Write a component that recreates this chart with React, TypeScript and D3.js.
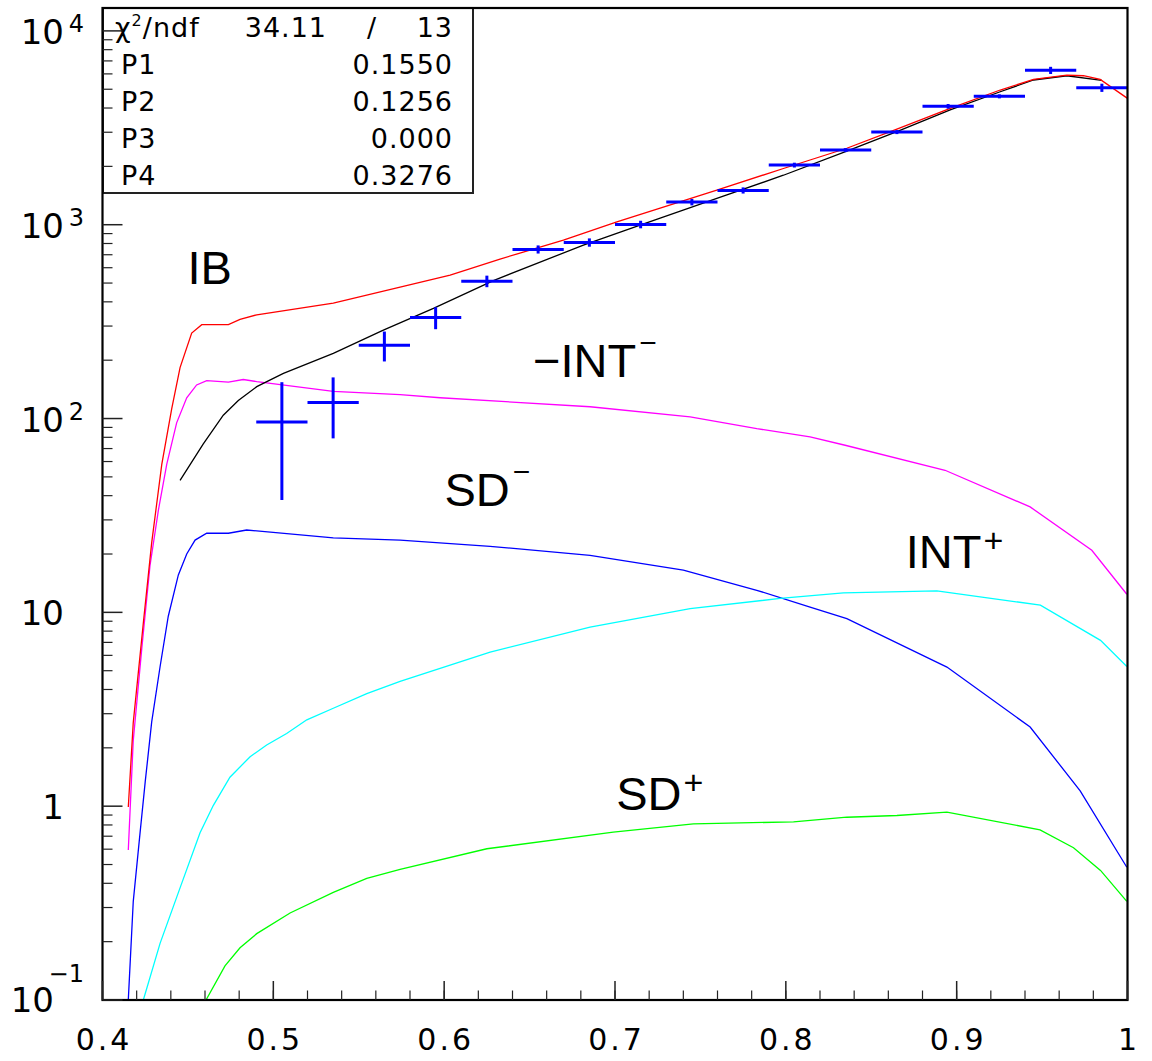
import React from "react";
import * as d3 from "d3";

// ---- fitted curves (x, value) ----
const redCurve: [number, number][] = [
  [0.4151, 0.99], [0.418, 2.7], [0.424, 9.0], [0.4288, 22.9], [0.4347, 58], [0.4405, 112],
  [0.4454, 183], [0.4522, 276], [0.4581, 305], [0.4737, 305], [0.4805, 325], [0.4903, 343],
  [0.5351, 394], [0.5742, 477], [0.6035, 549], [0.6327, 665], [0.6698, 833], [0.7011, 1035],
  [0.7596, 1509], [0.7986, 1950], [0.8357, 2480], [0.865, 3116], [0.8962, 3984], [0.9255, 4954],
  [0.945, 5623], [0.9645, 5916], [0.9742, 5870], [0.984, 5623], [1.0, 4487],
];
const blackCurve: [number, number][] = [
  [0.4454, 48], [0.459, 74], [0.4707, 104], [0.4795, 124], [0.4903, 146], [0.5059, 171],
  [0.5351, 217], [0.5644, 286], [0.5937, 370], [0.6288, 515], [0.6815, 785], [0.7147, 995],
  [0.7596, 1367], [0.7986, 1800], [0.8357, 2400], [0.865, 3020], [0.8962, 3908], [0.9255, 4853],
  [0.945, 5580], [0.9645, 5870], [0.985, 5560],
];
const magentaCurve: [number, number][] = [
  [0.4151, 0.594], [0.418, 2.18], [0.423, 6.52], [0.4278, 17.4], [0.4327, 33.6], [0.4376, 58],
  [0.4434, 95], [0.4493, 128], [0.4551, 149], [0.461, 157], [0.4737, 154], [0.4824, 159],
  [0.4903, 155], [0.5351, 138], [0.5742, 133], [0.5976, 128], [0.6854, 115], [0.744, 102],
  [0.783, 88.7], [0.8142, 80.5], [0.8347, 72.8], [0.8932, 54.1], [0.943, 35], [0.9791, 20.9],
  [0.9996, 12.4],
];
const blueCurve: [number, number][] = [
  [0.4151, 0.1], [0.418, 0.322], [0.422, 0.73], [0.425, 1.335], [0.4288, 2.72], [0.4337, 5.24],
  [0.4385, 9.55], [0.4444, 15.6], [0.4493, 20], [0.4542, 23.6], [0.461, 25.6], [0.4737, 25.6],
  [0.4844, 26.6], [0.5351, 24.2], [0.5742, 23.6], [0.6269, 21.9], [0.6854, 19.7], [0.74, 16.5],
  [0.783, 13], [0.8142, 10.65], [0.8357, 9.28], [0.8943, 5.22], [0.943, 2.56], [0.9723, 1.2],
  [0.9996, 0.484],
];
const cyanCurve: [number, number][] = [
  [0.4239, 0.1], [0.4337, 0.196], [0.4454, 0.379], [0.4571, 0.73], [0.4649, 1.01], [0.4746, 1.41],
  [0.4864, 1.8], [0.4961, 2.07], [0.5078, 2.37], [0.5196, 2.79], [0.5351, 3.2], [0.5547, 3.81],
  [0.5742, 4.4], [0.6269, 6.24], [0.6854, 8.4], [0.744, 10.45], [0.7967, 11.8], [0.8337, 12.6],
  [0.8884, 12.9], [0.949, 10.9], [0.9842, 7.17], [0.9996, 5.26],
];
const greenCurve: [number, number][] = [
  [0.4606, 0.1], [0.4717, 0.15], [0.4805, 0.186], [0.4903, 0.22], [0.5098, 0.281], [0.5351, 0.359],
  [0.5547, 0.424], [0.5742, 0.472], [0.625, 0.603], [0.699, 0.734], [0.7459, 0.811], [0.8045, 0.83],
  [0.8357, 0.877], [0.865, 0.895], [0.8943, 0.931], [0.9488, 0.755], [0.9684, 0.61], [0.9842, 0.466],
  [0.9996, 0.323],
];

// ---- data points ----
const dataX = [0.505, 0.535, 0.565, 0.595, 0.625, 0.655, 0.685, 0.715, 0.745, 0.775, 0.805, 0.835, 0.865, 0.895, 0.925, 0.955, 0.985];
const dataY = [96, 121, 239, 332, 511, 746, 810, 1003, 1308, 1503, 2031, 2427, 3006, 4081, 4596, 6260, 5092];
const dataErr = [58, 42, 42, 43, 35, 36, 40, 45, 50, 55, 58, 58, 72, 114, 110, 266, 248];
const binHalfWidth = 0.015;

// ---- axes ----
const xTickValues = [0.4, 0.5, 0.6, 0.7, 0.8, 0.9, 1.0];
const xTickLabels = ["0.4", "0.5", "0.6", "0.7", "0.8", "0.9", "1"];
const yTickValues = [0.1, 1, 10, 100, 1000, 10000];
const yTickBase = ["10", "1", "10", "10", "10", "10"];
const yTickExp = ["\u22121", "", "", "2", "3", "4"];

// ---- stats box ----
const statNames = ["P1", "P2", "P3", "P4"];
const statValues = ["0.1550", "0.1256", "0.000", "0.3276"];
const chi2Value = "34.11";
const ndfValue = "13";

// ---- curve labels (data coordinates) ----
const labelTexts = ["IB", "\u2212INT", "SD", "INT", "SD"];
const labelSups = ["", "\u2212", "\u2212", "+", "+"];
const labelX = [0.4497, 0.652, 0.6002, 0.8702, 0.7007];
const labelV = [493, 164, 35.3, 17.0, 0.95];

const curves: { pts: [number, number][]; color: string }[] = [
  { pts: magentaCurve, color: "#ff00ff" },
  { pts: blueCurve, color: "#0000ff" },
  { pts: cyanCurve, color: "#00ffff" },
  { pts: greenCurve, color: "#00ff00" },
  { pts: blackCurve, color: "#000000" },
  { pts: redCurve, color: "#ff0000" },
];

export default function App() {
  const W = 1152;
  const H = 1061;
  const left = 102.5, right = 1127.5, top = 8, bottom = 1000;
  const x = d3.scaleLinear().domain([0.4, 1.0]).range([left, right]);
  const y = d3.scaleLog().domain([0.1, 13125]).range([bottom, top]);
  const line = d3
    .line<[number, number]>()
    .x((d) => x(d[0]))
    .y((d) => y(d[1]));

  const xMinor = d3.range(0, 31).map((i) => 0.4 + i * 0.02).filter((v) => v <= 1.0001);
  const yMinor: number[] = [];
  for (let e = -1; e <= 4; e++) {
    for (let k = 2; k <= 9; k++) {
      const v = k * Math.pow(10, e);
      if (v < 13125) yMinor.push(v);
    }
  }

  const tickFont = "'DejaVu Sans', sans-serif";
  const labelFont = "'Liberation Sans', Arial, sans-serif";

  return (
    <svg
      width={W}
      height={H}
      style={{ position: "absolute", left: 0, top: 0, background: "#fff" }}
    >
      <defs>
        <clipPath id="plotClip">
          <rect x={left} y={top} width={right - left} height={bottom - top} />
        </clipPath>
      </defs>
      <rect x={0} y={0} width={W} height={H} fill="#fff" />

      {/* curves */}
      <g clipPath="url(#plotClip)">
        {curves.map((c, i) => (
          <path key={i} d={line(c.pts) || ""} fill="none" stroke={c.color} strokeWidth={1.3} />
        ))}
      </g>

      {/* data points */}
      <g stroke="#0000ff" strokeWidth={3}>
        {dataX.map((xv, i) => (
          <g key={i}>
            <line x1={x(xv - binHalfWidth)} x2={x(xv + binHalfWidth)} y1={y(dataY[i])} y2={y(dataY[i])} />
            <line x1={x(xv)} x2={x(xv)} y1={y(dataY[i] + dataErr[i])} y2={y(Math.max(dataY[i] - dataErr[i], 0.1))} />
          </g>
        ))}
      </g>

      {/* curve labels */}
      <g fontFamily={labelFont} fontSize={47} fill="#000">
        {labelTexts.map((t, i) => (
          <text key={i} x={x(labelX[i])} y={y(labelV[i])}>
            {t}
            {labelSups[i] && (
              <tspan
                fontSize={labelSups[i] === "+" ? 34 : 30}
                dx={labelSups[i] === "+" ? 2 : 3}
                dy={labelSups[i] === "+" ? -16 : -24}
              >
                {labelSups[i]}
              </tspan>
            )}
          </text>
        ))}
      </g>

      {/* stats box */}
      <rect x={103} y={8} width={370} height={185} fill="#fff" stroke="#222" strokeWidth={2} />
      <g fontFamily={tickFont} fontSize={27} fill="#000" letterSpacing={1}>
        <text x={115} y={36.5}>
          {"\u03c7"}
          <tspan fontSize={16} dy={-11}>2</tspan>
          <tspan dy={11}>/ndf</tspan>
        </text>
        <text x={327} y={36.5} textAnchor="end">{chi2Value}</text>
        <text x={372} y={36.5} textAnchor="middle">/</text>
        <text x={453} y={36.5} textAnchor="end">{ndfValue}</text>
        {statNames.map((n, i) => (
          <g key={n}>
            <text x={121} y={74 + i * 37.1}>{n}</text>
            <text x={453} y={74 + i * 37.1} textAnchor="end">{statValues[i]}</text>
          </g>
        ))}
      </g>

      {/* frame */}
      <rect x={left} y={top} width={right - left} height={bottom - top} fill="none" stroke="#000" strokeWidth={2.2} />

      {/* x ticks */}
      <g stroke="#222">
        {xMinor.map((v, i) => (
          <line key={"xm" + i} x1={x(v)} x2={x(v)} y1={bottom} y2={bottom - 9.5} strokeWidth={1.2} />
        ))}
        {xTickValues.map((v, i) => (
          <line key={"xM" + i} x1={x(v)} x2={x(v)} y1={bottom} y2={bottom - 19} strokeWidth={1.5} />
        ))}
      </g>
      {/* y ticks */}
      <g stroke="#222">
        {yMinor.map((v, i) => (
          <line key={"ym" + i} x1={left} x2={left + 10} y1={y(v)} y2={y(v)} strokeWidth={1.2} />
        ))}
        {yTickValues.map((v, i) => (
          <line key={"yM" + i} x1={left} x2={left + 20} y1={y(v)} y2={y(v)} strokeWidth={1.5} />
        ))}
      </g>

      {/* x tick labels */}
      <g fontFamily={tickFont} fontSize={30} fill="#000" letterSpacing={3}>
        {xTickValues.map((v, i) => (
          <text key={i} x={x(v) + 1.5} y={1050} textAnchor="middle">
            {xTickLabels[i]}
          </text>
        ))}
      </g>

      {/* y tick labels */}
      <g fontFamily={tickFont} fill="#000">
        {yTickValues.map((v, i) => {
          const exp = yTickExp[i];
          const ty = y(v);
          if (!exp) {
            return (
              <text key={i} x={64} y={ty + 13} textAnchor="end" fontSize={34}>
                {yTickBase[i]}
              </text>
            );
          }
          const neg = exp.startsWith("\u2212");
          return (
            <g key={i}>
              <text x={neg ? 54 : 64} y={neg ? ty + 12 : ty + 13} textAnchor="end" fontSize={34}>
                {yTickBase[i]}
              </text>
              <text x={84} y={neg ? ty - 18 : ty + 1} textAnchor="end" fontSize={24}>
                {exp}
              </text>
            </g>
          );
        })}
      </g>
    </svg>
  );
}
